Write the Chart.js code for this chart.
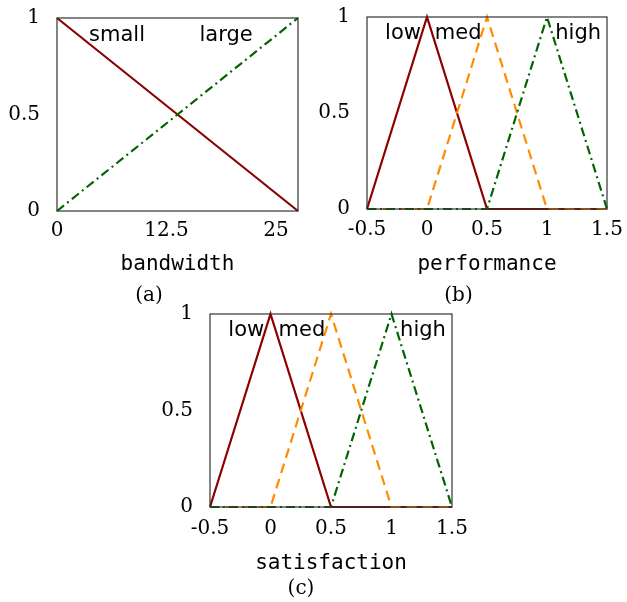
<!DOCTYPE html>
<html>
<head>
<meta charset="utf-8">
<script src="https://cdn.jsdelivr.net/npm/chart.js@4"></script>
<style>
  body { margin: 0; background: #fff; }
  .panel { position: absolute; }
</style>
</head>
<body>
<div class="panel" style="left:0;top:0;width:310px;height:305px"><canvas id="chartA"></canvas></div>
<div class="panel" style="left:310px;top:0;width:317px;height:305px"><canvas id="chartB"></canvas></div>
<div class="panel" style="left:150px;top:300px;width:320px;height:302px"><canvas id="chartC"></canvas></div>
<script>
// ---- data ----
const bwX = [0, 27.5];
const bwSmall = [1, 0];
const bwLarge = [0, 1];
const bwTicks = [0, 12.5, 25];
const bwNames = ['small', 'large'];

const perfX = [-0.5, 0, 0.5, 1, 1.5];
const perfLow = [0, 1, 0, 0, 0];
const perfMed = [0, 0, 1, 0, 0];
const perfHigh = [0, 0, 0, 1, 0];

const satX = [-0.5, 0, 0.5, 1, 1.5];
const satLow = [0, 1, 0, 0, 0];
const satMed = [0, 0, 1, 0, 0];
const satHigh = [0, 0, 0, 1, 0];

const levelNames = ['low', 'med', 'high'];
const levelTicks = [-0.5, 0, 0.5, 1, 1.5];
const yTicks = [0, 0.5, 1];

// ---- styles ----
const RED = '#8b0000', ORANGE = '#ff8c00', GREEN = '#006400';
const solid = { borderColor: RED, borderDash: [], order: 2 };
const dashed = { borderColor: ORANGE, borderDash: [10, 6], order: 1 };
const dashDot = { borderColor: GREEN, borderDash: [9, 4, 2, 4], order: 0 };

const serif = 'DejaVu Serif';

// frame + inline names
const framePlugin = {
  id: 'frame',
  afterDatasetsDraw(chart, args, opts) {
    const { ctx, chartArea: a, scales } = chart;
    ctx.save();
    ctx.strokeStyle = '#333';
    ctx.lineWidth = 1.2;
    ctx.strokeRect(a.left, a.top, a.right - a.left, a.bottom - a.top);
    ctx.fillStyle = '#000';
    ctx.font = '21px "DejaVu Sans"';
    ctx.textAlign = 'center';
    ctx.textBaseline = 'middle';
    opts.names.forEach((n, i) => {
      const p = opts.pos[i];
      ctx.fillText(n, scales.x.getPixelForValue(p[0]), scales.y.getPixelForValue(p[1]));
    });
    ctx.restore();
  }
};

function makeChart(id, c) {
  const styles = c.series.length === 2 ? [solid, dashDot] : [solid, dashed, dashDot];
  const datasets = c.series.map((vals, i) => Object.assign({
    data: c.xs.map((x, j) => ({ x: x, y: vals[j] })),
    showLine: true,
    pointRadius: 0,
    borderWidth: 2.2,
    fill: false,
    clip: false
  }, styles[i]));

  return new Chart(document.getElementById(id), {
    type: 'scatter',
    data: { datasets },
    options: {
      responsive: true,
      maintainAspectRatio: false,
      animation: false,
      events: [],
      layout: { padding: { left: 0, top: c.top, right: c.right, bottom: 0 } },
      plugins: {
        legend: { display: false },
        tooltip: { enabled: false },
        title: {
          display: true,
          position: 'bottom',
          text: c.caption,
          color: '#000',
          font: { family: serif, size: 20, weight: 'normal' },
          padding: { top: 0, bottom: c.capPad }
        },
        frame: { names: c.names, pos: c.namePos }
      },
      scales: {
        x: {
          type: 'linear',
          min: c.xs[0],
          max: c.xs[c.xs.length - 1],
          afterBuildTicks: s => { s.ticks = c.xTicks.map(v => ({ value: v })); },
          afterFit: s => { s.height = c.xH; s.paddingLeft = 0; s.paddingRight = 0; },
          grid: { display: false, drawTicks: false },
          border: { display: false },
          ticks: {
            color: '#000',
            padding: c.tickPad,
            maxRotation: 0,
            font: { family: serif, size: 20 },
            callback: v => String(v)
          },
          title: {
            display: true,
            text: c.xTitle,
            color: '#000',
            font: { family: 'DejaVu Sans Mono', size: 21 },
            padding: { top: 0, bottom: c.titlePad }
          }
        },
        y: {
          type: 'linear',
          min: 0,
          max: 1,
          afterBuildTicks: s => { s.ticks = yTicks.map(v => ({ value: v })); },
          afterFit: s => { s.width = c.left; s.paddingTop = 0; s.paddingBottom = 0; },
          grid: { display: false, drawTicks: false },
          border: { display: false },
          ticks: {
            color: '#000',
            padding: 17,
            font: { family: serif, size: 20 },
            callback: v => String(v)
          }
        }
      }
    },
    plugins: [framePlugin]
  });
}

makeChart('chartA', {
  xs: bwX, series: [bwSmall, bwLarge], xTicks: bwTicks,
  names: bwNames, namePos: [[6.85, 0.91], [19.3, 0.91]],
  xTitle: 'bandwidth', caption: '(a)',
  left: 57, top: 18, right: 12, xH: 73, capPad: -3, tickPad: 8, titlePad: 7
});
makeChart('chartB', {
  xs: perfX, series: [perfLow, perfMed, perfHigh], xTicks: levelTicks,
  names: levelNames, namePos: [[-0.2, 0.915], [0.26, 0.915], [1.26, 0.915]],
  xTitle: 'performance', caption: '(b)',
  left: 57, top: 17, right: 20, xH: 75, capPad: -3, tickPad: 9, titlePad: 7
});
makeChart('chartC', {
  xs: satX, series: [satLow, satMed, satHigh], xTicks: levelTicks,
  names: levelNames, namePos: [[-0.2, 0.915], [0.26, 0.915], [1.26, 0.915]],
  xTitle: 'satisfaction', caption: '(c)',
  left: 60, top: 14, right: 18, xH: 70, capPad: 1, tickPad: 10, titlePad: 1
});
</script>
</body>
</html>
